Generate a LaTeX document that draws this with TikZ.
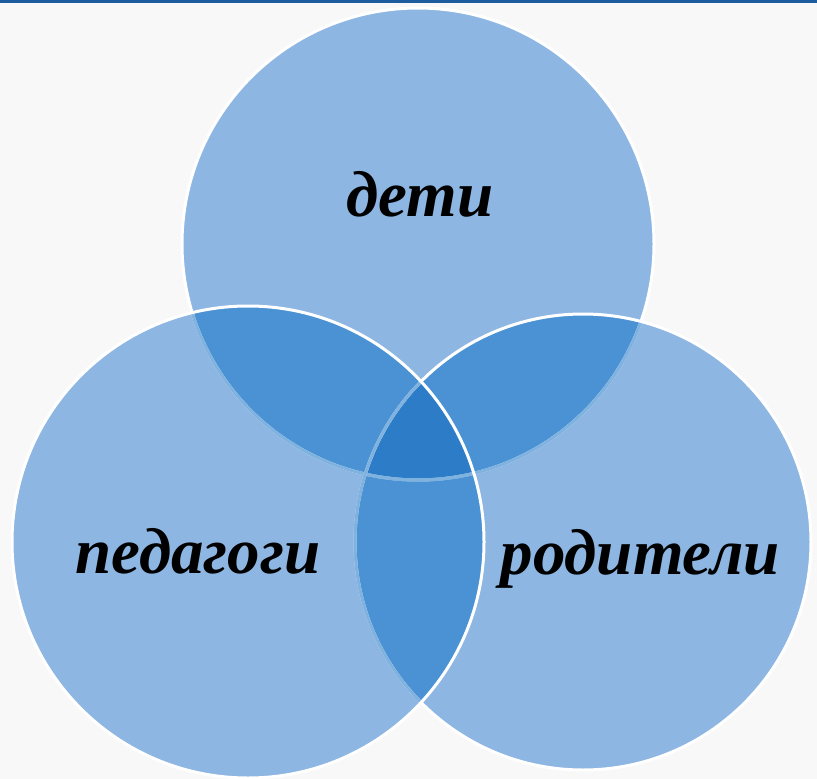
\documentclass[tikz,border=0pt]{standalone}
\usepackage{fontspec}
\setmainfont{Liberation Serif}

\definecolor{paper}{RGB}{248,248,248}
\definecolor{barblue}{RGB}{30,92,160}
\definecolor{oneblue}{RGB}{141,182,226}
\definecolor{twoblue}{RGB}{74,146,212}
\definecolor{threeblue}{RGB}{44,124,200}

\begin{document}
\begin{tikzpicture}[
  x=1pt, y=-1pt,
  rim/.style={draw=white, line width=3pt},
  faintrim/.style={draw=white, draw opacity=0.3, line width=3pt},
  word/.style={anchor=base, font=\fontsize{65}{78}\selectfont\bfseries\itshape, text=black}
]

\fill[paper] (0,0) rectangle (817,779);
\fill[barblue] (0,0) rectangle (817,3);
\useasboundingbox (0,0) rectangle (817,779);

\coordinate (kids) at (418,244);
\coordinate (parents) at (583,542);
\coordinate (teachers) at (248,542);
\def\rk{236pt}
\def\rp{228pt}
\def\rt{236pt}

% single areas
\fill[oneblue] (kids) circle[radius=\rk];
\fill[oneblue] (parents) circle[radius=\rp];
\fill[oneblue] (teachers) circle[radius=\rt];

% overlaps of two
\begin{scope}
  \clip (kids) circle[radius=\rk];
  \fill[twoblue] (parents) circle[radius=\rp];
  \fill[twoblue] (teachers) circle[radius=\rt];
\end{scope}
\begin{scope}
  \clip (parents) circle[radius=\rp];
  \fill[twoblue] (teachers) circle[radius=\rt];
\end{scope}

% overlap of three
\begin{scope}
  \clip (kids) circle[radius=\rk];
  \clip (parents) circle[radius=\rp];
  \fill[threeblue] (teachers) circle[radius=\rt];
\end{scope}

% rims, the ones below show through faintly
\draw[rim] (kids) circle[radius=\rk];
\begin{scope}
  \clip (parents) circle[radius=\rp];
  \draw[rim, draw=twoblue] (kids) circle[radius=\rk];
  \draw[faintrim] (kids) circle[radius=\rk];
\end{scope}
\begin{scope}
  \clip (teachers) circle[radius=\rt];
  \draw[rim, draw=twoblue] (kids) circle[radius=\rk];
  \draw[faintrim] (kids) circle[radius=\rk];
\end{scope}
\draw[rim] (parents) circle[radius=\rp];
\begin{scope}
  \clip (teachers) circle[radius=\rt];
  \draw[rim, draw=twoblue] (parents) circle[radius=\rp];
  \draw[faintrim] (parents) circle[radius=\rp];
\end{scope}
\draw[rim] (teachers) circle[radius=\rt];

\node[word] (deti) at (420,216) {дети};
\node[word] (pedagogi) at (198,573) {педагоги};
\node[word] (roditeli) at (640,574) {родители};

\end{tikzpicture}
\end{document}
